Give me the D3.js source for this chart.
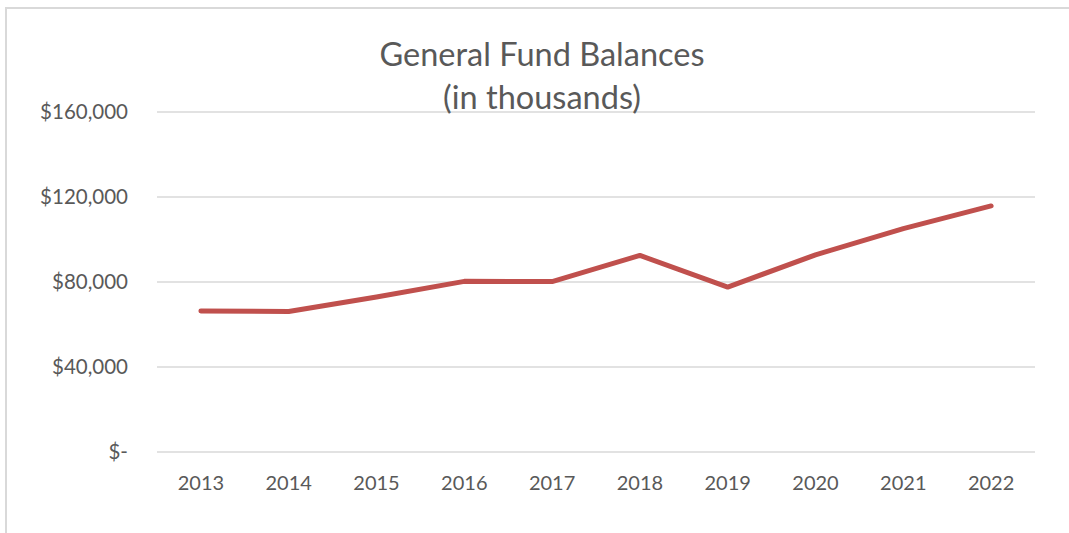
<!DOCTYPE html>
<html>
<head>
<meta charset="utf-8">
<script src="https://cdn.jsdelivr.net/npm/d3@7"></script>
<style>
  html, body { margin: 0; padding: 0; background: #fff; }
  svg { display: block; }
  text { font-family: Lato, "Open Sans", sans-serif; fill: #595959; }
</style>
</head>
<body>
<svg id="chart" width="1069" height="533"></svg>
<script>
const years = ["2013","2014","2015","2016","2017","2018","2019","2020","2021","2022"];
const balances = [66400, 66100, 72900, 80300, 80200, 92500, 77600, 92800, 105100, 115800];
const yTicks = [0, 40000, 80000, 120000, 160000];
const titleLines = ["General Fund Balances", "(in thousands)"];

const W = 1069, H = 533;
const m = { left: 157, right: 1035, top: 112, bottom: 452 };
const svg = d3.select("#chart");

// outer chart border (only top & left visible)
svg.append("rect").attr("x", 6).attr("y", 8).attr("width", W + 20).attr("height", H + 20)
  .attr("fill", "none").attr("stroke", "#d9d9d9").attr("stroke-width", 2);

const x = d3.scaleBand().domain(years).range([m.left, m.right]);
const y = d3.scaleLinear().domain([0, 160000]).range([m.bottom, m.top]);

// gridlines
svg.append("g").selectAll("line").data(yTicks).join("line")
  .attr("x1", m.left).attr("x2", m.right)
  .attr("y1", d => y(d)).attr("y2", d => y(d))
  .attr("stroke", "#d9d9d9").attr("stroke-width", 1.5);

// y axis labels
const fmt = d => d === 0 ? "$-" : "$" + d3.format(",")(d);
const yAxis = d3.axisLeft(y).tickValues(yTicks).tickFormat(fmt).tickSize(0).tickPadding(0);
const gy = svg.append("g").attr("transform", "translate(128,0)").call(yAxis);
gy.select(".domain").remove();
gy.selectAll("text").attr("font-size", 20.5).attr("fill", "#595959")
  .style("font-family", "Lato, 'Open Sans', sans-serif");

// x axis labels
const xAxis = d3.axisBottom(x).tickSize(0).tickPadding(0);
const gx = svg.append("g").attr("transform", "translate(0,476)").call(xAxis);
gx.select(".domain").remove();
gx.selectAll("text").attr("font-size", 20).attr("fill", "#595959")
  .style("font-family", "Lato, 'Open Sans', sans-serif");

// line
const line = d3.line()
  .x((d, i) => x(years[i]) + x.bandwidth() / 2)
  .y(d => y(d));
svg.append("path").datum(balances)
  .attr("d", line)
  .attr("fill", "none")
  .attr("stroke", "#c0504d")
  .attr("stroke-width", 5)
  .attr("stroke-linecap", "round")
  .attr("stroke-linejoin", "round");

// title
svg.append("g").selectAll("text").data(titleLines).join("text")
  .attr("x", 542).attr("y", (d, i) => 66 + i * 43)
  .attr("text-anchor", "middle")
  .attr("font-size", 32.5)
  .text(d => d);
</script>
</body>
</html>
